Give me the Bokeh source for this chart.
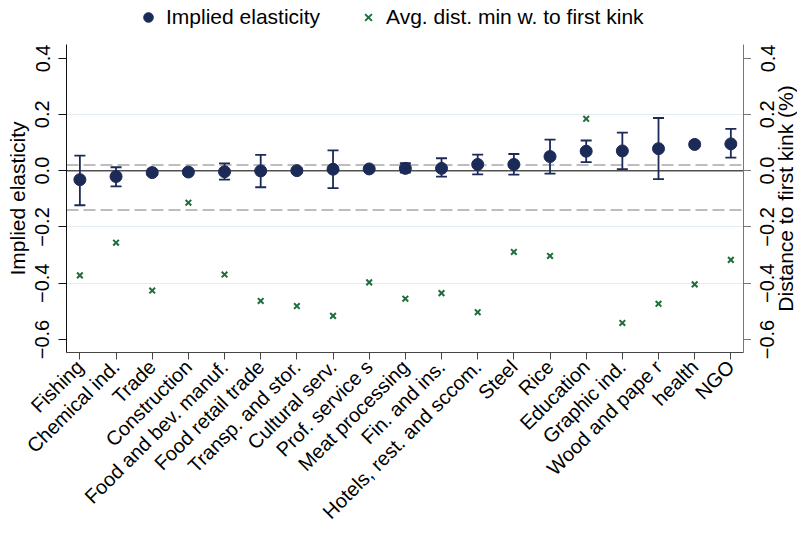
import math
from bokeh.plotting import figure
from bokeh.layouts import column, row
from bokeh.models import (Range1d, LinearAxis, FixedTicker, CustomJSTickFormatter, Span,
                          Whisker, TeeHead, ColumnDataSource, Legend, LegendItem)
from bokeh.core.properties import value
from bokeh.embed import file_html
from bokeh.resources import INLINE

categories = ["Fishing", "Chemical ind.", "Trade", "Construction", "Food and bev. manuf.",
              "Food retail trade", "Transp. and stor.", "Cultural serv.", "Prof. service s",
              "Meat processing", "Fin. and ins.", "Hotels, rest. and sccom.", "Steel", "Rice",
              "Education", "Graphic ind.", "Wood and pape r", "health", "NGO"]
elasticity = [-0.032, -0.021, -0.007, -0.005, -0.004, -0.001, 0.000, 0.005, 0.006, 0.008,
              0.008, 0.022, 0.022, 0.050, 0.069, 0.070, 0.078, 0.093, 0.095]
ci_low = [-0.123, -0.056, -0.015, -0.012, -0.032, -0.059, -0.008, -0.062, 0.000, -0.007,
          -0.021, -0.013, -0.014, -0.011, 0.030, 0.005, -0.030, 0.085, 0.046]
ci_high = [0.053, 0.012, 0.001, 0.002, 0.026, 0.056, 0.008, 0.072, 0.012, 0.027,
           0.044, 0.057, 0.059, 0.110, 0.107, 0.135, 0.187, 0.102, 0.148]
dist_kink = [-0.372, -0.256, -0.426, -0.114, -0.369, -0.463, -0.481, -0.516, -0.397, -0.455,
             -0.435, -0.503, -0.289, -0.303, 0.184, -0.541, -0.473, -0.404, -0.317]
y_ticks = [-0.6, -0.4, -0.2, 0.0, 0.2, 0.4]
grid_ticks = [-0.4, -0.2, 0.0, 0.2]
zero_line = 0.0
dashed_lines = [0.02, -0.14]
series_labels = ["Implied elasticity", "Avg. dist. min w. to first kink"]
y_title_left = "Implied elasticity"
y_title_right = "Distance to first kink (%)"

positions = list(range(1, len(categories) + 1))

NAVY = "#1b2a56"
GREEN = "#1e6e3a"
FONT = "Liberation Sans"

# page geometry (pixels)
W, H = 797, 544
TOP = 44
LEFT_BORDER = 66
RIGHT_TICKS = 8
RIGHT_STRIP = 46
RIGHT_LABEL_BORDER = 23
FRAME_W, FRAME_H = 677, 308
MAIN_H = H - TOP
BOTTOM_BORDER = MAIN_H - FRAME_H

X0, X1 = 0.63, 19.35
Y0, Y1 = -0.646, 0.448
xr = Range1d(X0, X1)
yr = Range1d(Y0, Y1)

minus_fmt = CustomJSTickFormatter(code="return tick.toFixed(1).replace('-', '\u2212');")


def strip(width, height, x_range, y_range):
    f = figure(width=width, height=height, x_range=x_range, y_range=y_range,
               output_backend="svg", toolbar_location=None,
               x_axis_type=None, y_axis_type=None,
               min_border_left=0, min_border_right=0, min_border_top=0, min_border_bottom=0)
    f.outline_line_color = None
    f.grid.visible = False
    return f


# ---------------- main panel ----------------
p = figure(width=LEFT_BORDER + FRAME_W + RIGHT_TICKS, height=MAIN_H,
           x_range=xr, y_range=yr, output_backend="svg", toolbar_location=None,
           min_border_left=LEFT_BORDER, min_border_right=RIGHT_TICKS, min_border_top=0,
           min_border_bottom=BOTTOM_BORDER)
p.outline_line_color = None
p.background_fill_color = "white"
p.xgrid.visible = False
p.ygrid.ticker = FixedTicker(ticks=grid_ticks)
p.ygrid.grid_line_color = "#e3ecf0"
p.ygrid.grid_line_width = 1

left = p.yaxis[0]
left.ticker = FixedTicker(ticks=y_ticks)
left.formatter = minus_fmt
left.major_label_orientation = "parallel"
left.major_tick_out = 8
left.major_tick_in = 0
left.minor_tick_line_color = None
left.axis_line_color = "#111111"
left.major_tick_line_color = "#111111"
left.major_label_text_font = FONT
left.major_label_text_font_size = "20px"
left.major_label_text_color = "black"
left.major_label_standoff = 9
left.axis_label = y_title_left
left.axis_label_text_font = FONT
left.axis_label_text_font_size = "21px"
left.axis_label_text_font_style = "normal"
left.axis_label_text_color = "black"
left.axis_label_standoff = 4

right = LinearAxis()
right.ticker = FixedTicker(ticks=y_ticks)
right.formatter = CustomJSTickFormatter(code="return '';")
right.major_label_text_font_size = "0px"
right.major_label_standoff = 0
right.major_tick_out = 8
right.major_tick_in = 0
right.minor_tick_line_color = None
right.axis_line_color = "#777777"
right.major_tick_line_color = "#777777"
p.add_layout(right, "right")

xa = p.xaxis[0]
xa.ticker = FixedTicker(ticks=positions)
xa.major_label_overrides = {pos: name for pos, name in zip(positions, categories)}
xa.major_label_orientation = math.pi / 4
xa.major_tick_out = 7
xa.major_tick_in = 0
xa.minor_tick_line_color = None
xa.axis_line_color = "#444444"
xa.major_tick_line_color = "#444444"
xa.major_label_text_font = FONT
xa.major_label_text_font_size = "20px"
xa.major_label_text_color = "black"
xa.major_label_standoff = 4

for v in dashed_lines:
    p.add_layout(Span(location=v, dimension="width", line_color="#a8a8a8", line_width=1.6,
                      line_dash="12 5", level="underlay"))
p.add_layout(Span(location=zero_line, dimension="width", line_color="#505050", line_width=1.5,
                  level="underlay"))

src = ColumnDataSource(dict(x=positions, y=elasticity, lo=ci_low, hi=ci_high, d=dist_kink))
p.add_layout(Whisker(base="x", upper="hi", lower="lo", source=src, dimension="height",
                     line_color=NAVY, line_width=1.8,
                     upper_head=TeeHead(size=11, line_color=NAVY, line_width=1.8),
                     lower_head=TeeHead(size=11, line_color=NAVY, line_width=1.8)))
p.scatter("x", "y", source=src, marker="circle", size=12, fill_color=NAVY, line_color=NAVY)
p.scatter("x", "d", source=src, marker="x", size=8, line_color=GREEN, line_width=2)

# ---------------- right strip: right-axis tick labels (an axis of its own) and title ----------------
pr = figure(width=RIGHT_STRIP, height=MAIN_H,
            x_range=Range1d(0, RIGHT_STRIP - RIGHT_LABEL_BORDER), y_range=yr,
            output_backend="svg", toolbar_location=None, x_axis_type=None,
            min_border_left=RIGHT_LABEL_BORDER, min_border_right=0, min_border_top=0,
            min_border_bottom=BOTTOM_BORDER)
pr.outline_line_color = None
pr.grid.visible = False
rl = pr.yaxis[0]
rl.ticker = FixedTicker(ticks=y_ticks)
rl.formatter = minus_fmt
rl.major_label_orientation = "parallel"
rl.major_tick_out = 0
rl.major_tick_in = 0
rl.minor_tick_line_color = None
rl.major_tick_line_color = None
rl.axis_line_color = None
rl.major_label_standoff = 0
rl.major_label_text_font = FONT
rl.major_label_text_font_size = "20px"
rl.major_label_text_color = "black"
pr.text(x=[11], y=[(Y0 + Y1) / 2], text=[y_title_right], angle=math.pi / 2,
        text_align="center", text_baseline="middle", text_font=value(FONT),
        text_font_size="21px", text_color="black")

# ---------------- top strip: legend ----------------
pt = strip(W, TOP, Range1d(0, W), Range1d(0, TOP))
g1 = pt.scatter(x=[-100], y=[-100], marker="circle", size=12, fill_color=NAVY, line_color=NAVY)
g2 = pt.scatter(x=[-100], y=[-100], marker="x", size=8, line_color=GREEN, line_width=2)
legend = Legend(items=[LegendItem(label=series_labels[0], renderers=[g1]),
                       LegendItem(label=series_labels[1], renderers=[g2])],
                orientation="horizontal", location=(136, 15), border_line_color=None,
                background_fill_alpha=0, padding=0, margin=0, spacing=36, label_standoff=6,
                glyph_width=24, glyph_height=24, label_height=24,
                label_text_font=FONT, label_text_font_size="21px", label_text_color="black")
pt.add_layout(legend)

layout = column(pt, row(p, pr, spacing=0), spacing=0)

open("out.html", "w", encoding="utf-8").write(file_html(layout, INLINE))
